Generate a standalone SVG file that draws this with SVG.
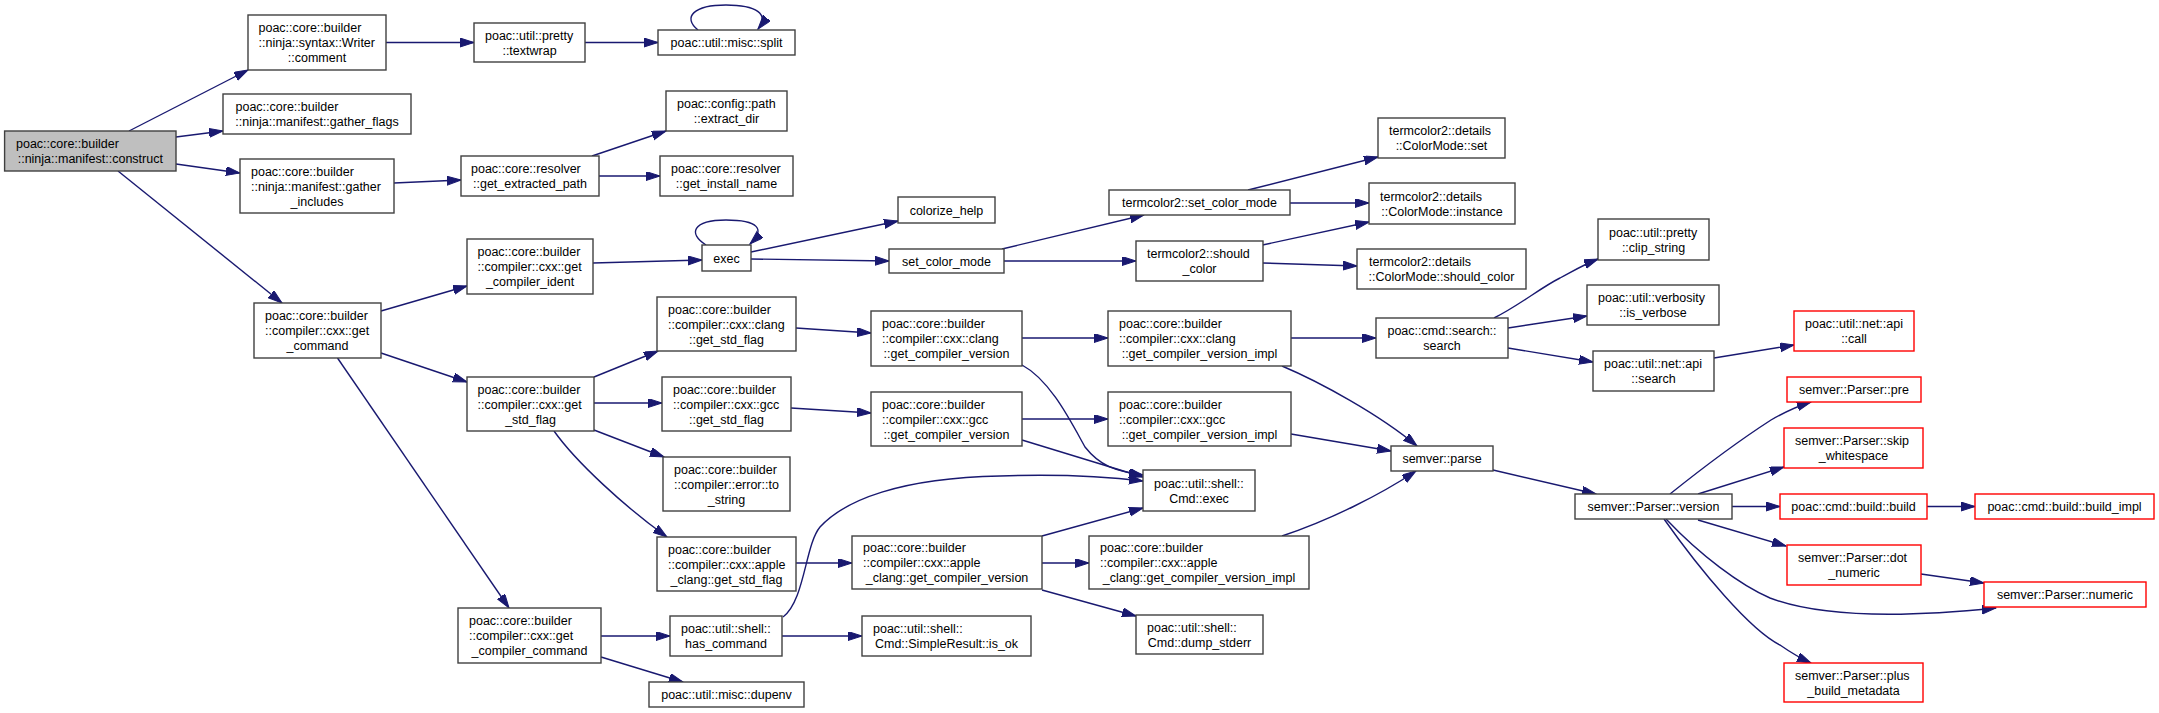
<svg xmlns="http://www.w3.org/2000/svg" width="2159" height="713" viewBox="0 0 2159 713">
<style>
text{font-family:"Liberation Sans",Arial,Helvetica,sans-serif;font-size:12.5px;fill:#000}
.l{text-anchor:start}
.c{text-anchor:middle}
.n rect{fill:#fff;stroke:#404040;stroke-width:1.4}
.root rect{fill:#bfbfbf}
.red rect{stroke:#ff0000}
.e path{fill:none;stroke:#191970;stroke-width:1.4;marker-end:url(#ah)}
</style>
<defs>
<marker id="ah" markerUnits="userSpaceOnUse" markerWidth="15" markerHeight="10" refX="14" refY="4.5" orient="auto">
<path d="M0,0 L14,4.5 L0,9 Z" fill="#191970" stroke="#191970" stroke-width="1"/>
</marker>
</defs>
<rect width="2159" height="713" fill="#fff"/>
<g id="edges" class="e">
<path d="M129,131 L248,70"/>
<path d="M176,137 L223,131"/>
<path d="M176,164 L240,173"/>
<path d="M118,171 L282,303"/>
<path d="M386,42.5 L474,42.5"/>
<path d="M394,183 L461,180"/>
<path d="M585,42.5 L658,42.5"/>
<path d="M698,30 C682,17 694,5 726,5 C756,5 770,14 758,29"/>
<path d="M592,156 L666,131"/>
<path d="M599,176 L660,176"/>
<path d="M381,311 L467,286"/>
<path d="M381,353 L467,382"/>
<path d="M337.5,358 L509,608"/>
<path d="M593,263 L702,260"/>
<path d="M706,245 C688,234 692,220 726,220 C758,220 766,229 750,244"/>
<path d="M751,252 L898,221"/>
<path d="M751,259 L889,261"/>
<path d="M1002,249 L1144,215"/>
<path d="M1004,261 L1136,261"/>
<path d="M1248,190 L1378,157"/>
<path d="M1290,203 L1369,203"/>
<path d="M1262.5,245 L1369,222"/>
<path d="M1262.5,263 L1357,266"/>
<path d="M594,377 L658,351"/>
<path d="M594,403 L662,403"/>
<path d="M594,430 L664,457"/>
<path d="M554,431 C576,462 625,507 667,537"/>
<path d="M796,328 L871,333"/>
<path d="M791,408 L871,413"/>
<path d="M1022,338 L1108,338"/>
<path d="M1022,419 L1108,419"/>
<path d="M1022,365 C1050,380 1070,420 1085,447 C1100,466 1115,471 1143,475"/>
<path d="M1022,440 L1143,477"/>
<path d="M783,617 C805,600 805,545 820,527 C845,500 900,478 1000,476 C1060,474 1110,477 1143,481"/>
<path d="M796,563 L852,563"/>
<path d="M1042,563 L1089,563"/>
<path d="M1042,536 L1143,508"/>
<path d="M1042,590 L1136,616"/>
<path d="M601,636 L670,636"/>
<path d="M601,657 L683,682"/>
<path d="M782,636 L862,636"/>
<path d="M1291,338 L1376,338"/>
<path d="M1282,366 C1320,382 1380,415 1417,446"/>
<path d="M1291,434 L1391,451"/>
<path d="M1282,536 C1330,520 1380,495 1416,471"/>
<path d="M1494,318 C1520,305 1540,288 1560,278 C1575,270 1585,264 1598,259"/>
<path d="M1508,328 L1587,316"/>
<path d="M1508,348 L1593,362"/>
<path d="M1714,358 L1794,345"/>
<path d="M1493,470 L1596,494"/>
<path d="M1670,494 C1700,470 1740,440 1771,420 C1785,412 1798,406 1811,402"/>
<path d="M1698,494 L1784,467"/>
<path d="M1732,506.5 L1780,506.5"/>
<path d="M1927,506.5 L1975,506.5"/>
<path d="M1698,520 L1786,546"/>
<path d="M1921,574 L1984,583"/>
<path d="M1666,519 C1700,555 1740,585 1770,598 C1820,617 1900,618 1996,608"/>
<path d="M1664,519 C1700,570 1750,630 1780,645 C1790,652 1800,658 1811,663"/>
</g>
<g id="construct" class="n root"><rect x="4.6" y="131" width="171.4" height="40"/><text class="l" x="16" y="148">poac::core::builder</text><text class="c" x="90.3" y="163">::ninja::manifest::construct</text></g>
<g id="comment" class="n"><rect x="248" y="15" width="138" height="55"/><text class="l" x="258.5" y="32">poac::core::builder</text><text class="l" x="258.5" y="47">::ninja::syntax::Writer</text><text class="c" x="317" y="62">::comment</text></g>
<g id="gather_flags" class="n"><rect x="223" y="94" width="188" height="40"/><text class="l" x="235.5" y="111">poac::core::builder</text><text class="c" x="317" y="126">::ninja::manifest::gather_flags</text></g>
<g id="gather_includes" class="n"><rect x="240" y="159" width="154" height="54"/><text class="l" x="251" y="175.5">poac::core::builder</text><text class="l" x="251" y="190.5">::ninja::manifest::gather</text><text class="c" x="317" y="205.5">_includes</text></g>
<g id="get_command" class="n"><rect x="254" y="303" width="127" height="55"/><text class="l" x="265" y="320">poac::core::builder</text><text class="l" x="265" y="335">::compiler::cxx::get</text><text class="c" x="317.5" y="350">_command</text></g>
<g id="textwrap" class="n"><rect x="474" y="23" width="111" height="39"/><text class="l" x="485" y="39.5">poac::util::pretty</text><text class="c" x="529.5" y="54.5">::textwrap</text></g>
<g id="get_extracted_path" class="n"><rect x="461" y="156" width="138" height="40"/><text class="l" x="471" y="173">poac::core::resolver</text><text class="c" x="530" y="188">::get_extracted_path</text></g>
<g id="get_compiler_ident" class="n"><rect x="467" y="239" width="126" height="55"/><text class="l" x="477.5" y="256">poac::core::builder</text><text class="l" x="477.5" y="271">::compiler::cxx::get</text><text class="c" x="530" y="286">_compiler_ident</text></g>
<g id="get_std_flag" class="n"><rect x="467" y="377" width="127" height="54"/><text class="l" x="477.5" y="393.5">poac::core::builder</text><text class="l" x="477.5" y="408.5">::compiler::cxx::get</text><text class="c" x="530.5" y="423.5">_std_flag</text></g>
<g id="get_compiler_command" class="n"><rect x="458" y="608" width="143" height="55"/><text class="l" x="469" y="625">poac::core::builder</text><text class="l" x="469" y="640">::compiler::cxx::get</text><text class="c" x="529.5" y="655">_compiler_command</text></g>
<g id="split" class="n"><rect x="658" y="30" width="137" height="25"/><text class="c" x="726.5" y="47">poac::util::misc::split</text></g>
<g id="extract_dir" class="n"><rect x="666" y="91" width="121" height="40"/><text class="l" x="677" y="108">poac::config::path</text><text class="c" x="726.5" y="123">::extract_dir</text></g>
<g id="get_install_name" class="n"><rect x="660" y="156" width="133" height="40"/><text class="l" x="671" y="173">poac::core::resolver</text><text class="c" x="726.5" y="188">::get_install_name</text></g>
<g id="exec" class="n"><rect x="702" y="245" width="49" height="26"/><text class="c" x="726.5" y="262.5">exec</text></g>
<g id="clang_get_std_flag" class="n"><rect x="657" y="297" width="139" height="54"/><text class="l" x="668" y="313.5">poac::core::builder</text><text class="l" x="668" y="328.5">::compiler::cxx::clang</text><text class="c" x="726.5" y="343.5">::get_std_flag</text></g>
<g id="gcc_get_std_flag" class="n"><rect x="662" y="377" width="129" height="54"/><text class="l" x="673" y="393.5">poac::core::builder</text><text class="l" x="673" y="408.5">::compiler::cxx::gcc</text><text class="c" x="726.5" y="423.5">::get_std_flag</text></g>
<g id="error_to_string" class="n"><rect x="663" y="457" width="127" height="54"/><text class="l" x="674" y="473.5">poac::core::builder</text><text class="l" x="674" y="488.5">::compiler::error::to</text><text class="c" x="726.5" y="503.5">_string</text></g>
<g id="apple_clang_get_std_flag" class="n"><rect x="657" y="537" width="139" height="54"/><text class="l" x="668" y="553.5">poac::core::builder</text><text class="l" x="668" y="568.5">::compiler::cxx::apple</text><text class="c" x="726.5" y="583.5">_clang::get_std_flag</text></g>
<g id="has_command" class="n"><rect x="670" y="616" width="112" height="40"/><text class="l" x="681" y="633">poac::util::shell::</text><text class="c" x="726" y="648">has_command</text></g>
<g id="dupenv" class="n"><rect x="649" y="682" width="155" height="25"/><text class="c" x="726.5" y="699">poac::util::misc::dupenv</text></g>
<g id="colorize_help" class="n"><rect x="898" y="197" width="97" height="26"/><text class="c" x="946.5" y="214.5">colorize_help</text></g>
<g id="set_color_mode" class="n"><rect x="889" y="249" width="115" height="24"/><text class="c" x="946.5" y="265.5">set_color_mode</text></g>
<g id="clang_get_compiler_version" class="n"><rect x="871" y="311" width="151" height="55"/><text class="l" x="882" y="328">poac::core::builder</text><text class="l" x="882" y="343">::compiler::cxx::clang</text><text class="c" x="946.5" y="358">::get_compiler_version</text></g>
<g id="gcc_get_compiler_version" class="n"><rect x="871" y="392" width="151" height="54"/><text class="l" x="882" y="408.5">poac::core::builder</text><text class="l" x="882" y="423.5">::compiler::cxx::gcc</text><text class="c" x="946.5" y="438.5">::get_compiler_version</text></g>
<g id="apple_clang_get_compiler_version" class="n"><rect x="852" y="536" width="190" height="53"/><text class="l" x="863" y="552">poac::core::builder</text><text class="l" x="863" y="567">::compiler::cxx::apple</text><text class="c" x="947" y="582">_clang::get_compiler_version</text></g>
<g id="simpleresult_is_ok" class="n"><rect x="862" y="616" width="169" height="40"/><text class="l" x="873" y="633">poac::util::shell::</text><text class="c" x="946.5" y="648">Cmd::SimpleResult::is_ok</text></g>
<g id="tc_set_color_mode" class="n"><rect x="1109" y="190" width="181" height="25"/><text class="c" x="1199.5" y="207">termcolor2::set_color_mode</text></g>
<g id="tc_should_color" class="n"><rect x="1136" y="241" width="127" height="40"/><text class="l" x="1147" y="258">termcolor2::should</text><text class="c" x="1199.5" y="273">_color</text></g>
<g id="clang_get_compiler_version_impl" class="n"><rect x="1108" y="311" width="183" height="55"/><text class="l" x="1119" y="328">poac::core::builder</text><text class="l" x="1119" y="343">::compiler::cxx::clang</text><text class="c" x="1199.5" y="358">::get_compiler_version_impl</text></g>
<g id="gcc_get_compiler_version_impl" class="n"><rect x="1108" y="392" width="183" height="54"/><text class="l" x="1119" y="408.5">poac::core::builder</text><text class="l" x="1119" y="423.5">::compiler::cxx::gcc</text><text class="c" x="1199.5" y="438.5">::get_compiler_version_impl</text></g>
<g id="cmd_exec" class="n"><rect x="1143" y="470" width="112" height="41"/><text class="l" x="1154" y="487.5">poac::util::shell::</text><text class="c" x="1199" y="502.5">Cmd::exec</text></g>
<g id="apple_clang_get_compiler_version_impl" class="n"><rect x="1089" y="536" width="220" height="53"/><text class="l" x="1100" y="552">poac::core::builder</text><text class="l" x="1100" y="567">::compiler::cxx::apple</text><text class="c" x="1199" y="582">_clang::get_compiler_version_impl</text></g>
<g id="cmd_dump_stderr" class="n"><rect x="1136" y="615" width="127" height="39"/><text class="l" x="1147" y="631.5">poac::util::shell::</text><text class="c" x="1199.5" y="646.5">Cmd::dump_stderr</text></g>
<g id="colormode_set" class="n"><rect x="1378" y="118" width="127" height="40"/><text class="l" x="1389" y="135">termcolor2::details</text><text class="c" x="1441.5" y="150">::ColorMode::set</text></g>
<g id="colormode_instance" class="n"><rect x="1369" y="183" width="146" height="41"/><text class="l" x="1380" y="200.5">termcolor2::details</text><text class="c" x="1442" y="215.5">::ColorMode::instance</text></g>
<g id="colormode_should_color" class="n"><rect x="1357" y="249" width="169" height="40"/><text class="l" x="1369" y="266">termcolor2::details</text><text class="c" x="1441.5" y="281">::ColorMode::should_color</text></g>
<g id="cmd_search" class="n"><rect x="1376" y="318" width="132" height="40"/><text class="c" x="1442" y="335">poac::cmd::search::</text><text class="c" x="1442" y="350">search</text></g>
<g id="semver_parse" class="n"><rect x="1391" y="446" width="102" height="25"/><text class="c" x="1442" y="463">semver::parse</text></g>
<g id="clip_string" class="n"><rect x="1598" y="219" width="111" height="41"/><text class="l" x="1609" y="236.5">poac::util::pretty</text><text class="c" x="1653.5" y="251.5">::clip_string</text></g>
<g id="is_verbose" class="n"><rect x="1587" y="285" width="132" height="40"/><text class="l" x="1598" y="302">poac::util::verbosity</text><text class="c" x="1653" y="317">::is_verbose</text></g>
<g id="net_api_search" class="n"><rect x="1593" y="351" width="121" height="40"/><text class="l" x="1604" y="368">poac::util::net::api</text><text class="c" x="1653.5" y="383">::search</text></g>
<g id="parser_version" class="n"><rect x="1575" y="494" width="157" height="25"/><text class="c" x="1653.5" y="511">semver::Parser::version</text></g>
<g id="net_api_call" class="n red"><rect x="1794" y="311" width="120" height="40"/><text class="l" x="1805" y="328">poac::util::net::api</text><text class="c" x="1854" y="343">::call</text></g>
<g id="parser_pre" class="n red"><rect x="1787" y="377" width="134" height="25"/><text class="c" x="1854" y="394">semver::Parser::pre</text></g>
<g id="parser_skip_whitespace" class="n red"><rect x="1784" y="428" width="139" height="40"/><text class="l" x="1795" y="445">semver::Parser::skip</text><text class="c" x="1853.5" y="460">_whitespace</text></g>
<g id="cmd_build" class="n red"><rect x="1780" y="494" width="147" height="25"/><text class="c" x="1853.5" y="511">poac::cmd::build::build</text></g>
<g id="parser_dot_numeric" class="n red"><rect x="1787" y="545" width="134" height="40"/><text class="l" x="1798" y="562">semver::Parser::dot</text><text class="c" x="1854" y="577">_numeric</text></g>
<g id="parser_plus_build_metadata" class="n red"><rect x="1784" y="663" width="139" height="39"/><text class="l" x="1795" y="679.5">semver::Parser::plus</text><text class="c" x="1853.5" y="694.5">_build_metadata</text></g>
<g id="cmd_build_impl" class="n red"><rect x="1975" y="494" width="179" height="25"/><text class="c" x="2064.5" y="511">poac::cmd::build::build_impl</text></g>
<g id="parser_numeric" class="n red"><rect x="1984" y="582" width="162" height="25"/><text class="c" x="2065" y="599">semver::Parser::numeric</text></g>
</svg>
